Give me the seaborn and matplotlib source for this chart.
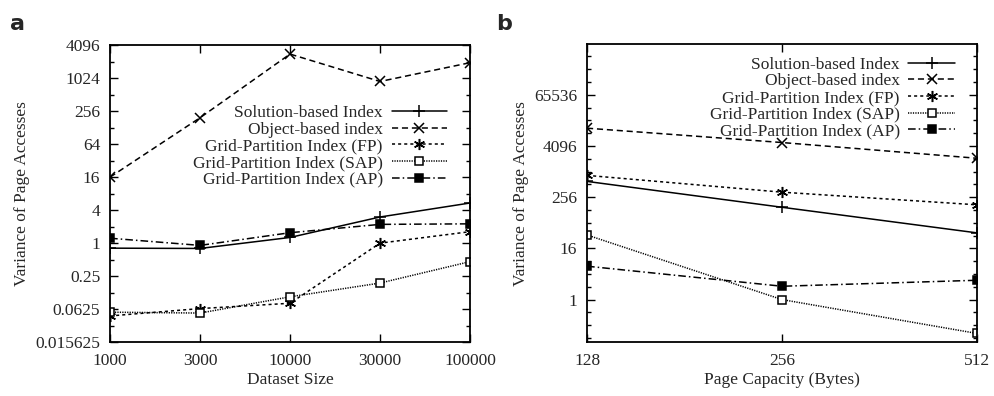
import numpy as np
import pandas as pd
import matplotlib
matplotlib.use("Agg")
import matplotlib.pyplot as plt
from matplotlib.ticker import FixedLocator, NullFormatter
import seaborn as sns

# Data: panel a (dataset size)
sizes = ["1000", "3000", "10000", "30000", "100000"]
sol_a = [0.81, 0.80, 1.27, 3.0, 5.4]
obj_a = [16, 194, 2816, 890, 1960]
fp_a = [0.047, 0.064, 0.08, 1.0, 1.62]
sap_a = [0.055, 0.053, 0.105, 0.187, 0.46]
ap_a = [1.23, 0.91, 1.55, 2.2, 2.25]

# Data: panel b (page capacity)
capacity = [128, 256, 512]
sol_b = [600, 148, 37]
obj_b = [10700, 4920, 2100]
fp_b = [832, 335, 169]
sap_b = [33, 1.0, 0.16]
ap_b = [6.1, 2.06, 2.85]

names = ["Solution-based Index", "Object-based index", "Grid-Partition Index (FP)",
         "Grid-Partition Index (SAP)", "Grid-Partition Index (AP)"]
yticks_a = [0.015625, 0.0625, 0.25, 1, 4, 16, 64, 256, 1024, 4096]
ytick_labels_a = ["0.015625", "0.0625", "0.25", "1", "4", "16", "64", "256", "1024", "4096"]
yticks_b = [1, 16, 256, 4096, 65536]

sns.set_style("ticks")
plt.rcParams["font.family"] = ["Liberation Serif", "DejaVu Serif"]

styles = [
    dict(linestyle="-", marker="+", markersize=8, mfc="black"),
    dict(linestyle=(0, (4, 2.5)), marker="x", markersize=7, mfc="black"),
    dict(linestyle=(0, (2, 2)), marker=(6, 2, 0), markersize=8, mfc="black"),
    dict(linestyle=(0, (0.8, 0.8)), marker="s", markersize=6, mfc="white"),
    dict(linestyle=(0, (5, 2, 1, 2)), marker="s", markersize=6, mfc="black"),
]

fs = 12.5

fig = plt.figure(figsize=(9.95, 3.96), dpi=100)
ax_a = fig.add_axes([0.1106, 0.136, 0.3618, 0.75])
ax_b = fig.add_axes([0.590, 0.136, 0.392, 0.752])

xa = np.arange(len(sizes))
for name, vals, st in zip(names, [sol_a, obj_a, fp_a, sap_a, ap_a], styles):
    sns.lineplot(x=xa, y=vals, ax=ax_a, color="black", linewidth=1.1, label=name,
                 mec="black", mew=1.1, **st)
for name, vals, st in zip(names, [sol_b, obj_b, fp_b, sap_b, ap_b], styles):
    sns.lineplot(x=capacity, y=vals, ax=ax_b, color="black", linewidth=1.1, label=name,
                 mec="black", mew=1.1, **st)

# panel a axes
ax_a.set_yscale("log", base=2)
ax_a.set_ylim(0.015625, 4096)
ax_a.yaxis.set_major_locator(FixedLocator(yticks_a))
ax_a.set_yticklabels(ytick_labels_a)
ax_a.yaxis.set_minor_locator(FixedLocator([2.0 ** k for k in range(-5, 12, 2)]))
ax_a.yaxis.set_minor_formatter(NullFormatter())
ax_a.set_xlim(0, len(sizes) - 1)
ax_a.set_xticks(xa)
ax_a.set_xticklabels(sizes)
ax_a.set_xlabel("Dataset Size", fontsize=fs, labelpad=2)
ax_a.set_ylabel("Variance of Page Accesses", fontsize=fs)

# panel b axes
ax_b.set_xscale("log", base=2)
ax_b.set_xlim(128, 512)
ax_b.set_xticks(capacity)
ax_b.set_xticklabels([str(c) for c in capacity])
ax_b.xaxis.set_minor_locator(FixedLocator([]))
ax_b.set_yscale("log", base=2)
ax_b.set_ylim(0.1, 1.0e6)
ax_b.yaxis.set_major_locator(FixedLocator(yticks_b))
ax_b.set_yticklabels([str(t) for t in yticks_b])
ax_b.yaxis.set_minor_locator(FixedLocator([2.0 ** k for k in range(-3, 20)]))
ax_b.yaxis.set_minor_formatter(NullFormatter())
ax_b.set_xlabel("Page Capacity (Bytes)", fontsize=fs, labelpad=2)
ax_b.set_ylabel("Variance of Page Accesses", fontsize=fs)

for ax, hl in ((ax_a, 3.2), (ax_b, 2.7)):
    ax.tick_params(axis="both", which="both", direction="in", top=True, right=True,
                   labelsize=fs, color="black")
    ax.tick_params(axis="x", which="major", pad=8)
    ax.tick_params(axis="y", which="major", pad=7)
    ax.tick_params(axis="both", which="major", length=6, width=1)
    ax.tick_params(axis="both", which="minor", length=3, width=1)
    for sp in ax.spines.values():
        sp.set_linewidth(1.3)
        sp.set_color("black")
    ax.legend(loc="upper right", frameon=False, markerfirst=False, fontsize=fs,
              handlelength=hl, handletextpad=0.5, labelspacing=0.03,
              borderaxespad=0.3)

leg_a = ax_a.get_legend()
leg_a.set_bbox_to_anchor((0.97, 0.84), transform=ax_a.transAxes)
leg_b = ax_b.get_legend()
leg_b.set_bbox_to_anchor((0.975, 1.0), transform=ax_b.transAxes)

fig.text(0.010, 0.925, "a", fontsize=16, fontweight="bold", family="DejaVu Sans")
fig.text(0.499, 0.925, "b", fontsize=16, fontweight="bold", family="DejaVu Sans")

fig.savefig("out.png", dpi=100)
